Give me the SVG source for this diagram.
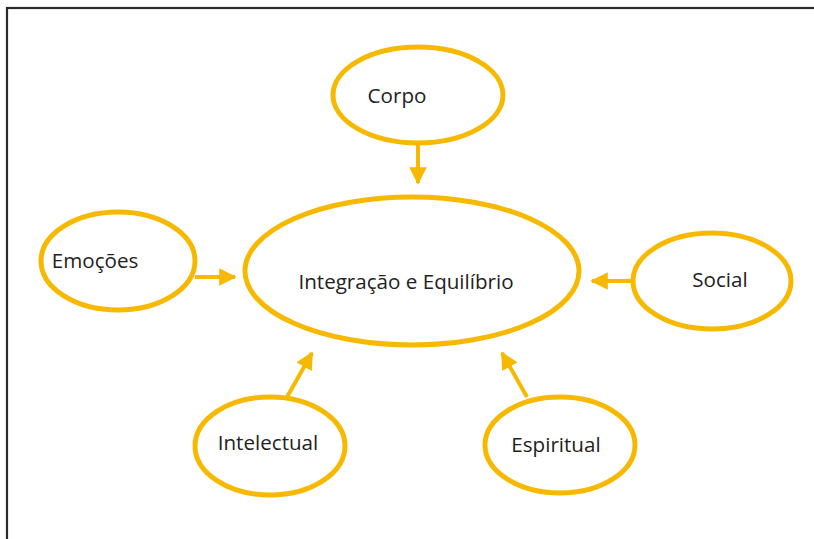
<svg xmlns="http://www.w3.org/2000/svg" width="814" height="539" viewBox="0 0 814 539">
<style>
.n{fill:#fff;stroke:#F7B900;stroke-width:5}
.t{font-family:"Open Sans","Liberation Sans",sans-serif;font-size:20.6px;fill:#222}
.c{stroke:#F7B900;stroke-width:4;fill:none}
</style>
<defs>
<marker id="ah" viewBox="0 0 10 10" refX="9" refY="5" markerWidth="4.4" markerHeight="4.4" markerUnits="strokeWidth" orient="auto">
<path d="M0,0 L10,5 L0,10 Z" fill="#F7B900"/>
</marker>
</defs>
<rect x="0" y="0" width="814" height="539" fill="#fff"/>
<rect x="7" y="8" width="820" height="545" fill="none" stroke="#2a2a2a" stroke-width="2.2"/>
<g id="connectors">
<line class="c" x1="418" y1="145" x2="418" y2="183" marker-end="url(#ah)"/>
<line class="c" x1="195" y1="277" x2="235" y2="277" marker-end="url(#ah)"/>
<line class="c" x1="633" y1="281" x2="592" y2="281" marker-end="url(#ah)"/>
<line class="c" x1="287" y1="397" x2="312" y2="353" marker-end="url(#ah)"/>
<line class="c" x1="527" y1="397" x2="502" y2="353" marker-end="url(#ah)"/>
</g>
<g id="center">
<ellipse class="n" cx="412" cy="271" rx="167" ry="74"/>
<text class="t" x="406" y="289" text-anchor="middle">Integração e Equilíbrio</text>
</g>
<g id="corpo">
<ellipse class="n" cx="418" cy="95" rx="85" ry="48"/>
<text class="t" x="397" y="103" text-anchor="middle">Corpo</text>
</g>
<g id="emocoes">
<ellipse class="n" cx="118" cy="261" rx="77" ry="49"/>
<text class="t" x="95" y="268" text-anchor="middle">Emoções</text>
</g>
<g id="social">
<ellipse class="n" cx="712" cy="281" rx="79" ry="48"/>
<text class="t" x="720" y="287" text-anchor="middle">Social</text>
</g>
<g id="intelectual">
<ellipse class="n" cx="270" cy="446" rx="75" ry="49"/>
<text class="t" x="268" y="450" text-anchor="middle">Intelectual</text>
</g>
<g id="espiritual">
<ellipse class="n" cx="560" cy="445" rx="75" ry="48"/>
<text class="t" x="556" y="452" text-anchor="middle">Espiritual</text>
</g>
</svg>
